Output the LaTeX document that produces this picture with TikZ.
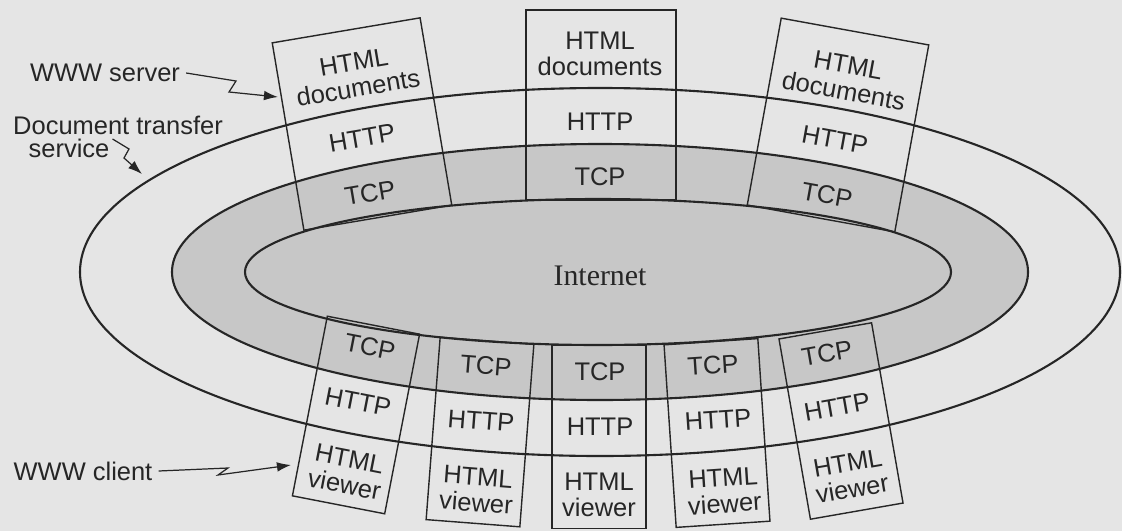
\documentclass[tikz,border=0pt]{standalone}
\usepackage{fontspec}
\setmainfont{Liberation Serif}
\setsansfont{Liberation Sans}
\usetikzlibrary{arrows.meta}
\definecolor{paper}{gray}{0.9}
\definecolor{tint}{gray}{0.78}
\definecolor{ink}{gray}{0.15}
\begin{document}
\begin{tikzpicture}[x=0.02cm, y=-0.02cm,
    txt/.style={text=ink, font=\sffamily\fontsize{14.5}{15}\selectfont, align=center},
    server/.style={draw=ink, line width=.8pt, minimum width=3cm, minimum height=3.8cm},
    client/.style={draw=ink, line width=.8pt, minimum width=1.88cm, minimum height=3.66cm},
    ring/.style={draw=ink, line width=1.2pt},
    zig/.style={draw=ink, line width=.7pt, -{Latex[length=8pt,width=5.5pt]}}]
  \fill[paper] (0,0) rectangle (1122,531);
  \useasboundingbox (0,0) rectangle (1122,531);
  % layers
  \fill[tint] (600,272) ellipse [x radius=428, y radius=128];
  \draw[ring] (600,272) ellipse [x radius=520, y radius=184];
  \draw[ring] (600,272) ellipse [x radius=428, y radius=128];
  \draw[ring] (598,272) ellipse [x radius=353, y radius=73];
  \node[text=ink, font=\fontsize{17}{20}\selectfont] (net) at (600,276) {Internet};
  % servers
  \node[server, rotate=9.6] (s1) at (362,124) {};
  \node[txt, rotate=9.6] (s1doc) at (356,75) {HTML\\documents};
  \node[txt, rotate=9.6] (s1http) at (362,138) {HTTP};
  \node[txt, rotate=9.6] (s1tcp) at (370,193) {TCP};
  \node[server] (s2) at (601,105) {};
  \node[txt] (s2doc) at (600,54) {HTML\\documents};
  \node[txt] (s2http) at (600,122) {HTTP};
  \node[txt] (s2tcp) at (600,177) {TCP};
  \node[server, rotate=-10.3] (s3) at (838,125) {};
  \node[txt, rotate=-10.3] (s3doc) at (846,78) {HTML\\documents};
  \node[txt, rotate=-10.3] (s3http) at (835,140) {HTTP};
  \node[txt, rotate=-10.3] (s3tcp) at (827,195) {TCP};
  % clients
  \node[client, rotate=-11] (c1) at (356,415) {};
  \node[txt, rotate=-11] (c1tcp) at (370,347) {TCP};
  \node[txt, rotate=-11] (c1http) at (358,402) {HTTP};
  \node[txt, rotate=-11] (c1view) at (347,472) {HTML\\viewer};
  \node[client, rotate=-4.4] (c2) at (480,432) {};
  \node[txt, rotate=-4.4] (c2tcp) at (486,366) {TCP};
  \node[txt, rotate=-4.4] (c2http) at (481,421) {HTTP};
  \node[txt, rotate=-4.4] (c2view) at (477,490) {HTML\\viewer};
  \node[client] (c3) at (599,437) {};
  \node[txt] (c3tcp) at (600,372) {TCP};
  \node[txt] (c3http) at (600,427) {HTTP};
  \node[txt] (c3view) at (599,495) {HTML\\viewer};
  \node[client, rotate=3.8] (c4) at (717,433) {};
  \node[txt, rotate=3.8] (c4tcp) at (713,365) {TCP};
  \node[txt, rotate=3.8] (c4http) at (718,420) {HTTP};
  \node[txt, rotate=3.8] (c4view) at (724,491) {HTML\\viewer};
  \node[client, rotate=9.9] (c5) at (841,421) {};
  \node[txt, rotate=9.9] (c5tcp) at (827,353) {TCP};
  \node[txt, rotate=9.9] (c5http) at (837,407) {HTTP};
  \node[txt, rotate=9.9] (c5view) at (850,476) {HTML\\viewer};
  % side labels
  \node[txt] (wsrv) at (105,73) {WWW server};
  \node[txt] (dts) at (118,125) {Document transfer};
  \node[txt] (dtsb) at (69,148) {service};
  \node[txt] (wcli) at (83,471) {WWW client};
  \coordinate (wsrvtip) at (278,97);
  \coordinate (dtstip) at (142,174);
  \coordinate (wclitip) at (291,465);
  \draw[zig] (wsrv.east) -- (236,81) -- (229,92) -- (wsrvtip);
  \draw[zig] ([shift={(-3,-9)}]dtsb.east) -- (129,149) -- (124,158) -- (dtstip);
  \draw[zig] (wcli.east) -- (228,468) -- (218,475) -- (wclitip);
\end{tikzpicture}
\end{document}
